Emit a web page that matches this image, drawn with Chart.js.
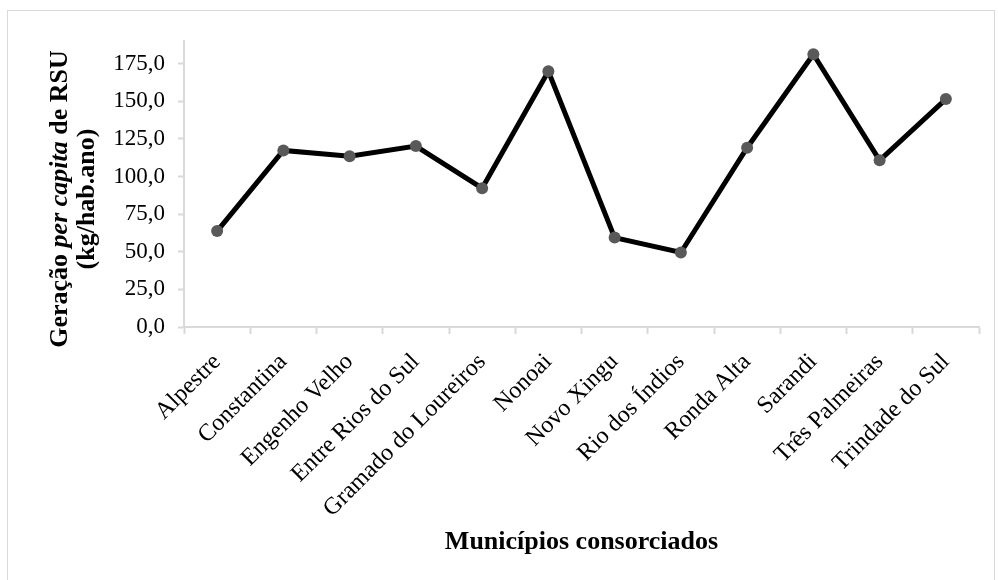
<!DOCTYPE html>
<html>
<head>
<meta charset="utf-8">
<script src="https://cdn.jsdelivr.net/npm/chart.js@4/dist/chart.umd.min.js"></script>
<style>
  html, body { margin: 0; padding: 0; background: #ffffff; overflow: hidden; }
  #wrap { position: relative; width: 998px; height: 580px; }
  #frame { position: absolute; left: 7px; top: 10px; width: 988px; height: 580px;
           border: 1.5px solid #d9d9d9; box-sizing: border-box; }
  #chart { position: absolute; left: 0; top: 0; }
</style>
</head>
<body>
<div id="wrap">
  <div id="frame"></div>
  <canvas id="chart" width="998" height="580"></canvas>
</div>
<script>
// Municípios consorciados e geração per capita de RSU (kg/hab.ano)
const municipios = [
  'Alpestre', 'Constantina', 'Engenho Velho', 'Entre Rios do Sul',
  'Gramado do Loureiros', 'Nonoai', 'Novo Xingu', 'Rio dos Índios',
  'Ronda Alta', 'Sarandi', 'Três Palmeiras', 'Trindade do Sul'
];
const geracaoPerCapita = [
  63.7, 117.3, 113.4, 120.2,
  92.2, 169.9, 59.4, 49.5,
  119.1, 181.2, 110.7, 151.4
];
const yTickValues = [0, 25, 50, 75, 100, 125, 150, 175];
const yAxisMax = 190;

const serif = "'Liberation Serif', 'Times New Roman', serif";
const axisGray = '#d9d9d9';

// Y axis title with an italic "per capita" segment, drawn in two rotated lines
const yTitlePlugin = {
  id: 'yTitle',
  afterDraw(chart) {
    const ctx = chart.ctx;
    const lines = [
      [
        { text: 'Geração ', font: 'bold 26px ' + serif },
        { text: 'per capita', font: 'italic bold 26px ' + serif },
        { text: ' de RSU', font: 'bold 26px ' + serif }
      ],
      [
        { text: '(kg/hab.ano)', font: 'bold 26px ' + serif }
      ]
    ];
    const baselines = [66.5, 94];
    const centerY = 199;
    ctx.save();
    ctx.translate(0, centerY);
    ctx.rotate(-Math.PI / 2);
    ctx.fillStyle = '#000000';
    ctx.textBaseline = 'alphabetic';
    ctx.textAlign = 'left';
    lines.forEach((segs, i) => {
      let total = 0;
      segs.forEach(s => { ctx.font = s.font; total += ctx.measureText(s.text).width; });
      let x = -total / 2;
      segs.forEach(s => {
        ctx.font = s.font;
        ctx.fillText(s.text, x, baselines[i]);
        x += ctx.measureText(s.text).width;
      });
    });
    ctx.restore();
  }
};

new Chart(document.getElementById('chart'), {
  type: 'line',
  data: {
    labels: municipios,
    datasets: [{
      data: geracaoPerCapita,
      borderColor: '#000000',
      borderWidth: 5,
      pointRadius: 6,
      pointHoverRadius: 6,
      pointBackgroundColor: '#595959',
      pointBorderColor: '#595959',
      pointBorderWidth: 0,
      tension: 0,
      fill: false
    }]
  },
  options: {
    responsive: false,
    animation: false,
    events: [],
    layout: { padding: { left: 7, top: 41, right: 19, bottom: 18 } },
    plugins: {
      legend: { display: false },
      tooltip: { enabled: false },
      title: { display: false }
    },
    scales: {
      x: {
        type: 'category',
        offset: true,
        grid: {
          offset: true,
          drawOnChartArea: false,
          drawTicks: true,
          tickLength: 7,
          tickColor: axisGray,
          tickWidth: 2
        },
        border: { display: true, color: axisGray, width: 2 },
        ticks: {
          autoSkip: false,
          minRotation: 45,
          maxRotation: 45,
          padding: 14,
          color: '#000000',
          font: { family: serif, size: 24 }
        },
        title: {
          display: true,
          text: 'Municípios consorciados',
          color: '#000000',
          font: { family: serif, size: 26, weight: 'bold' },
          padding: { top: 4, bottom: 4 }
        },
        afterFit(scale) { scale.height = 235; }
      },
      y: {
        min: 0,
        max: yAxisMax,
        grid: {
          drawOnChartArea: false,
          drawTicks: true,
          tickLength: 6,
          tickColor: axisGray,
          tickWidth: 2
        },
        border: { display: true, color: axisGray, width: 2 },
        ticks: {
          padding: 13,
          color: '#000000',
          font: { family: serif, size: 23 },
          callback: v => v.toFixed(1).replace('.', ',')
        },
        afterBuildTicks(scale) {
          scale.ticks = yTickValues.map(v => ({ value: v }));
        },
        afterFit(scale) { scale.width = 177; }
      }
    }
  },
  plugins: [yTitlePlugin]
});
</script>
</body>
</html>
